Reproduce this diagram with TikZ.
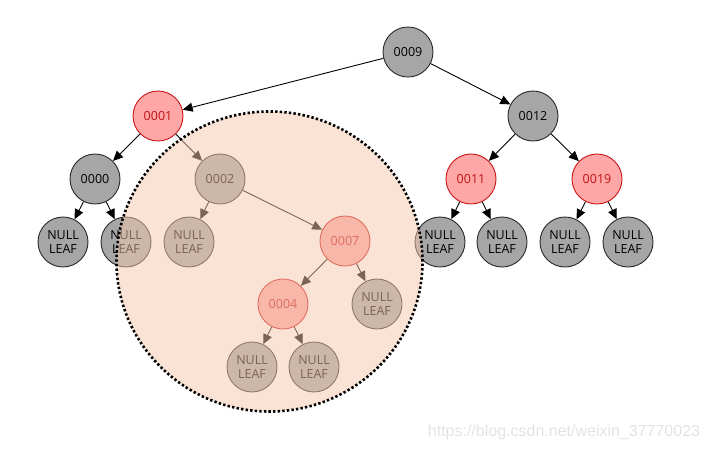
\documentclass[tikz,border=0pt]{standalone}
\usepackage{fontspec}
\setmainfont{Open Sans}
\newfontfamily\wmfont{Liberation Sans}
\usepackage{tikz}
\usetikzlibrary{arrows.meta,positioning,shapes.geometric}
\usepackage{xcolor}
\definecolor{nodegray}{RGB}{166,166,166}
\definecolor{nodeedge}{RGB}{40,40,40}
\definecolor{redfill}{RGB}{255,166,166}
\definecolor{rededge}{RGB}{200,20,20}
\definecolor{redtext}{RGB}{190,20,20}
\definecolor{peach}{RGB}{245,200,172}
\tikzset{
blk/.style={circle, draw=nodeedge, fill=nodegray, line width=0.9pt, minimum size=50pt, inner sep=0pt, font=\fontsize{12.5}{13}\selectfont},
rd/.style={circle, draw=rededge, fill=redfill, text=redtext, line width=0.9pt, minimum size=50pt, inner sep=0pt, font=\fontsize{12.5}{13}\selectfont},
leaf/.style={blk, align=center, font=\fontsize{12.5}{14.5}\selectfont},
arr/.style={line width=0.9pt, -{Triangle[length=10pt, width=9pt]}}
}

\begin{document}
\begin{tikzpicture}[x=1pt, y=-1pt]
\useasboundingbox (0,0) rectangle (710,451);
\node[blk] (n9) at (408,52) {0009};
\node[rd] (n1) at (158,116) {0001};
\node[blk] (n12) at (533,116) {0012};
\node[blk] (n0) at (95,179) {0000};
\node[blk] (n2) at (220,179) {0002};
\node[rd] (n11) at (471,179) {0011};
\node[rd] (n19) at (597,179) {0019};
\node[rd] (n7) at (345,241) {0007};
\node[rd] (n4) at (283,304) {0004};
\node[leaf] (l0a) at (63,242) {NULL\\LEAF};
\node[leaf] (l0b) at (126,242) {NULL\\LEAF};
\node[leaf] (l2a) at (189,242) {NULL\\LEAF};
\node[leaf] (l11a) at (440,242) {NULL\\LEAF};
\node[leaf] (l11b) at (502,242) {NULL\\LEAF};
\node[leaf] (l19a) at (565,242) {NULL\\LEAF};
\node[leaf] (l19b) at (628,242) {NULL\\LEAF};
\node[leaf] (l7b) at (377,304) {NULL\\LEAF};
\node[leaf] (l4a) at (252,367) {NULL\\LEAF};
\node[leaf] (l4b) at (314,367) {NULL\\LEAF};
\foreach \a/\b in {n9/n1, n9/n12, n1/n0, n1/n2, n12/n11, n12/n19, n0/l0a, n0/l0b, n2/l2a, n2/n7, n11/l11a, n11/l11b, n19/l19a, n19/l19b, n7/n4, n7/l7b, n4/l4a, n4/l4b}
\draw[arr] (\a) -- (\b);
% highlighted subtree
\node[ellipse, minimum width=306pt, minimum height=300pt, fill=peach, fill opacity=0.5, draw=black, draw opacity=1, line width=2.6pt, dash pattern=on 2.4pt off 2.2pt] (zone) at (269.5,261.5) {};
\node[text=black!11, font=\wmfont\fontsize{16}{18}\selectfont] (wm) at (564,432) {https://blog.csdn.net/weixin\_37770023};
\end{tikzpicture}
\end{document}
